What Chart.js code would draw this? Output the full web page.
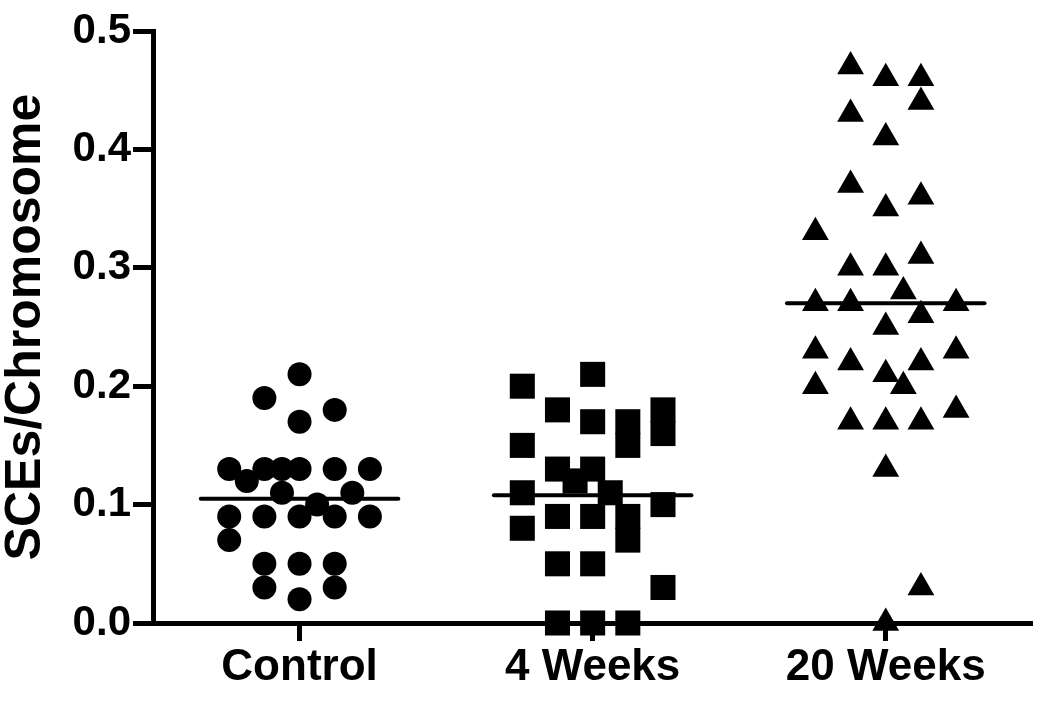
<!DOCTYPE html>
<html>
<head>
<meta charset="utf-8">
<script src="https://cdn.jsdelivr.net/npm/chart.js@4.4.1/dist/chart.umd.min.js"></script>
<style>
  html, body { margin: 0; padding: 0; background: #ffffff; }
  canvas { display: block; }
</style>
</head>
<body>
<canvas id="chart" width="1050" height="701"></canvas>
<script>
const groups = ["Control", "4 Weeks", "20 Weeks"]
const yTicks = [0, 0.1, 0.2, 0.3, 0.4, 0.5]

// horizontal scatter offsets (in category units) and values
const controlOffsets = [0, -0.12, 0.12, 0, -0.24, -0.12, -0.06, 0, 0.12, 0.24, -0.18, -0.06, 0.18, 0.06, -0.24, -0.12, 0, 0.12, 0.24, -0.24, -0.12, 0, 0.12, -0.12, 0.12, 0]
const controlValues = [0.21, 0.19, 0.18, 0.17, 0.13, 0.13, 0.13, 0.13, 0.13, 0.13, 0.12, 0.11, 0.11, 0.10, 0.09, 0.09, 0.09, 0.09, 0.09, 0.07, 0.05, 0.05, 0.05, 0.03, 0.03, 0.02]

const weeks4Offsets = [-0.24, 0, -0.12, 0, 0.12, 0.12, 0.24, 0.24, -0.24, -0.12, 0, -0.06, 0.06, -0.24, 0.24, -0.12, 0, 0.12, 0.12, -0.24, -0.12, 0, 0.24, -0.12, 0, 0.12]
const weeks4Values = [0.20, 0.21, 0.18, 0.17, 0.17, 0.15, 0.18, 0.16, 0.15, 0.13, 0.13, 0.12, 0.11, 0.11, 0.10, 0.09, 0.09, 0.09, 0.07, 0.08, 0.05, 0.05, 0.03, 0, 0, 0]

const weeks20Offsets = [-0.12, 0, 0.12, 0.12, -0.12, 0, -0.12, 0.12, 0, -0.24, 0.12, -0.12, 0, 0.06, -0.24, -0.12, 0.24, 0.12, 0, -0.24, 0.24, -0.12, 0.12, 0, 0.06, -0.24, 0.24, -0.12, 0, 0.12, 0, 0.12, 0]
const weeks20Values = [0.47, 0.46, 0.46, 0.44, 0.43, 0.41, 0.37, 0.36, 0.35, 0.33, 0.31, 0.30, 0.30, 0.28, 0.27, 0.27, 0.27, 0.26, 0.25, 0.23, 0.23, 0.22, 0.22, 0.21, 0.20, 0.20, 0.18, 0.17, 0.17, 0.17, 0.13, 0.03, 0]

const medians = [0.105, 0.108, 0.27]

const fontFamily = "'Liberation Sans', Arial, sans-serif"
const halfLine = 0.337

const toPoints = (index, offsets, values) => values.map((v, i) => ({x: index + offsets[i], y: v}))

const markerSet = (index, offsets, values, style, radius) => ({
    data: toPoints(index, offsets, values),
    pointStyle: style,
    pointRadius: radius,
    pointHoverRadius: radius,
    pointBackgroundColor: "#000000",
    pointBorderWidth: 0,
    showLine: false,
    clip: false,
})

const medianSet = (index) => ({
    data: [{x: index - halfLine, y: medians[index]}, {x: index + halfLine, y: medians[index]}],
    showLine: true,
    borderColor: "#000000",
    borderWidth: 4,
    borderCapStyle: "round",
    pointRadius: 0,
    clip: false,
})

let myChart = new Chart(document.querySelector("#chart"), {
    type: "scatter",
    data: {
        datasets: [
            markerSet(0, controlOffsets, controlValues, "circle", 12),
            markerSet(1, weeks4Offsets, weeks4Values, "rect", 17.7),
            markerSet(2, weeks20Offsets, weeks20Values, "triangle", 15.5),
            medianSet(0),
            medianSet(1),
            medianSet(2),
        ],
    },
    options: {
        responsive: false,
        animation: false,
        layout: {padding: {top: 31, right: 8, left: 0, bottom: 0}},
        plugins: {
            legend: {display: false},
            tooltip: {enabled: false},
        },
        scales: {
            x: {
                type: "linear",
                min: -0.5,
                max: 2.5,
                afterBuildTicks: (axis) => {
                    axis.ticks = groups.map((_, i) => ({value: i}))
                },
                afterFit: (scale) => { scale.height = 78 },
                ticks: {
                    color: "#000000",
                    padding: 0,
                    font: {family: fontFamily, size: 44, weight: "bold"},
                    callback: (v) => groups[v],
                },
                grid: {
                    drawOnChartArea: false,
                    color: "#000000",
                    tickLength: 18,
                    tickWidth: 5,
                },
                border: {display: true, color: "#000000", width: 5},
            },
            y: {
                min: 0,
                max: 0.5,
                afterBuildTicks: (axis) => {
                    axis.ticks = yTicks.map(v => ({value: v}))
                },
                afterFit: (scale) => { scale.width = 153 },
                ticks: {
                    color: "#000000",
                    padding: 2,
                    font: {family: fontFamily, size: 42, weight: "bold"},
                    callback: (v) => v.toFixed(1),
                },
                grid: {
                    drawOnChartArea: false,
                    color: "#000000",
                    tickLength: 20,
                    tickWidth: 5,
                },
                border: {display: true, color: "#000000", width: 5},
                title: {
                    display: true,
                    text: "SCEs/Chromosome",
                    color: "#000000",
                    padding: {top: -4, bottom: 0},
                    font: {family: fontFamily, size: 50, weight: "bold"},
                },
            },
        },
    },
})
</script>
</body>
</html>
